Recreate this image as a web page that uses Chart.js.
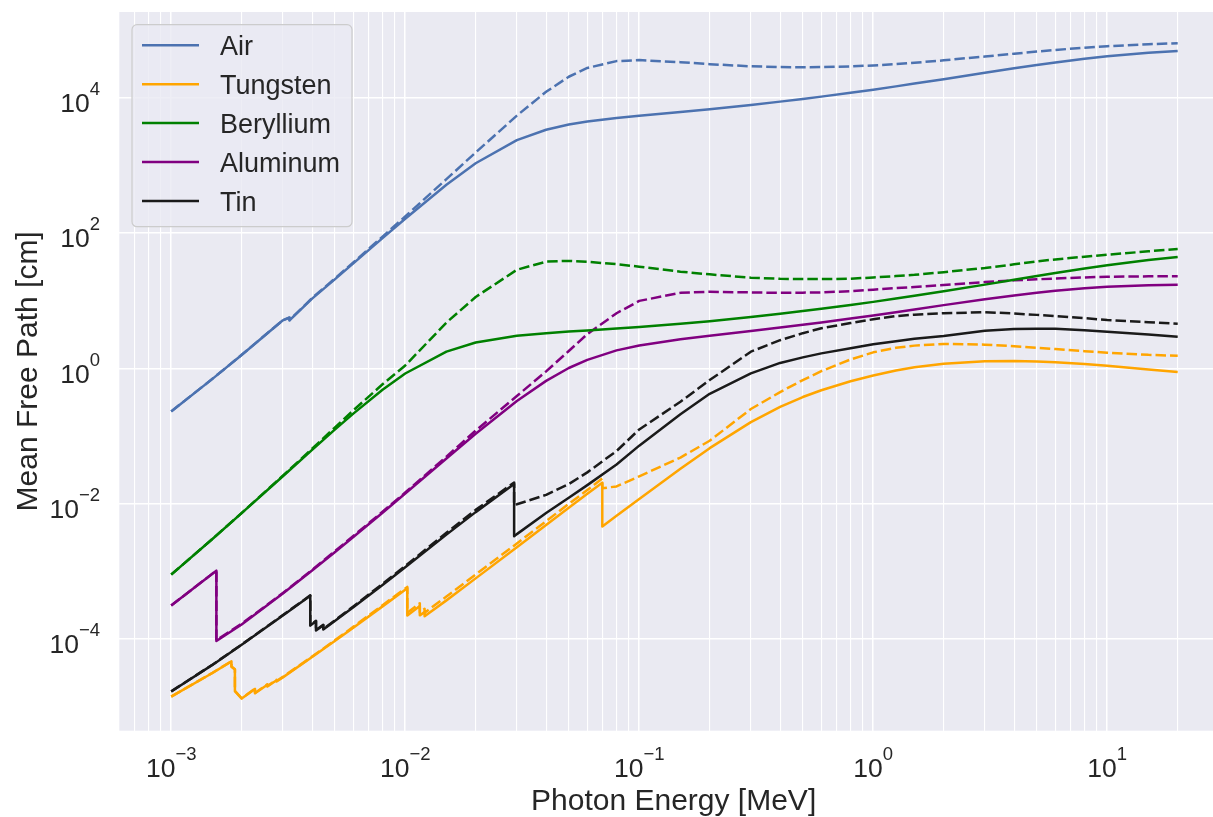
<!DOCTYPE html>
<html>
<head>
<meta charset="utf-8">
<script src="https://cdn.jsdelivr.net/npm/chart.js@4.4.1/dist/chart.umd.min.js"></script>
<style>
html,body{margin:0;padding:0;background:#ffffff;}
#wrap{width:1213px;height:817px;}
canvas{display:block;}
</style>
</head>
<body>
<div id="wrap"><canvas id="c" width="1213" height="817"></canvas></div>
<script>
// ---------------- DATA (photon energy in MeV, mean free path in cm) ----------------
const airE = [0.001,0.0015,0.002,0.003,0.0032029,0.0032029,0.004,0.005,0.006,0.008,0.01,0.015,0.02,0.03,0.04,0.05,0.06,0.08,0.1,0.15,0.2,0.3,0.4,0.5,0.6,0.8,1,1.25,1.5,2,3,4,5,6,8,10,15,20];
const airTotal = [0.230,0.697,1.57,5.11,5.59,5.09,10.7,20.6,35.5,83.7,162,514,1067,2346,3340,3990,4426,4993,5386,6120,6731,7778,8691,9526,10303,11732,13053,14593,16037,18662,23175,26953,30167,32906,37299,40582,45851,48675];
const airAbsorb = [0.231,0.699,1.58,5.14,5.63,5.16,10.9,21.1,36.6,87.9,175,622,1540,5400,12146,20251,27290,34479,35695,33249,31059,28896,28142,27981,28104,28796,29756,31129,32584,35390,40345,44380,47695,50388,54420,57234,61338,63303];

const wE = [0.001,0.0015,0.0018092,0.0018092,0.0018716,0.0018716,0.002,0.002281,0.002281,0.0025749,0.0025749,0.0028196,0.0028196,0.003,0.004,0.005,0.006,0.008,0.01,0.0102068,0.0102068,0.011544,0.011544,0.0120998,0.0120998,0.015,0.02,0.03,0.04,0.05,0.06,0.069525,0.069525,0.08,0.1,0.15,0.2,0.3,0.4,0.5,0.6,0.8,1,1.25,1.5,2,3,4,5,6,8,10,15,20];
const wTotal = [1.41e-5,3.15e-5,4.68e-5,3.90e-5,3.56e-5,1.70e-5,1.32e-5,1.83e-5,1.58e-5,2.12e-5,1.99e-5,2.46e-5,2.36e-5,2.72e-5,5.42e-5,9.36e-5,1.47e-4,3.04e-4,5.35e-4,5.63e-4,2.22e-4,3.07e-4,2.24e-4,2.51e-4,2.18e-4,3.73e-4,7.88e-4,2.28e-3,4.86e-3,8.71e-3,0.01396,0.0203,4.61e-3,6.63e-3,0.01168,0.0328,0.0661,0.160,0.269,0.376,0.474,0.642,0.783,0.929,1.036,1.169,1.271,1.283,1.263,1.231,1.159,1.092,0.962,0.879];
const wAbsorb = [1.41e-5,3.17e-5,4.70e-5,3.93e-5,3.58e-5,1.71e-5,1.335e-5,1.85e-5,1.60e-5,2.15e-5,2.02e-5,2.50e-5,2.40e-5,2.76e-5,5.51e-5,9.58e-5,1.515e-4,3.16e-4,5.60e-4,5.90e-4,2.45e-4,3.38e-4,2.50e-4,2.80e-4,2.45e-4,4.25e-4,9.0e-4,2.58e-3,5.51e-3,9.96e-3,0.0159,0.0235,0.0169,0.0180,0.0253,0.048,0.085,0.250,0.445,0.670,0.907,1.349,1.72,2.004,2.161,2.286,2.235,2.117,2.013,1.925,1.792,1.700,1.579,1.532];

const beE = [0.001,0.0015,0.002,0.003,0.004,0.005,0.006,0.008,0.01,0.015,0.02,0.03,0.04,0.05,0.06,0.08,0.1,0.15,0.2,0.3,0.4,0.5,0.6,0.8,1,1.25,1.5,2,3,4,5,6,8,10,15,20];
const beTotal = [8.96e-4,3.01e-3,7.25e-3,0.0254,0.0623,0.124,0.214,0.481,0.837,1.76,2.40,3.02,3.30,3.48,3.62,3.86,4.08,4.55,4.97,5.72,6.39,6.99,7.56,8.61,9.57,10.7,11.8,13.7,17.2,20.3,23.1,25.5,29.8,33.3,39.8,44.1];
const beAbsorb = [8.97e-4,3.02e-3,7.29e-3,0.0259,0.0647,0.133,0.239,0.58,1.1,4.73,11.3,28.5,37.6,38.6,37.5,34.5,31.7,26.7,24.4,21.8,21.0,20.8,20.8,21.0,22.0,23.0,24.0,26.3,30.3,34.3,38.0,40.6,44.5,47.5,53.5,57.9];

const alE = [0.001,0.0015,0.0015596,0.0015596,0.002,0.003,0.004,0.005,0.006,0.008,0.01,0.015,0.02,0.03,0.04,0.05,0.06,0.08,0.1,0.15,0.2,0.3,0.4,0.5,0.6,0.8,1,1.25,1.5,2,3,4,5,6,8,10,15,20];
const alTotal = [3.13e-4,9.21e-4,1.023e-3,9.36e-5,1.637e-4,4.70e-4,1.028e-3,1.916e-3,3.21e-3,7.36e-3,0.0141,0.0466,0.108,0.329,0.652,1.01,1.33,1.84,2.17,2.69,3.03,3.56,3.99,4.39,4.75,5.42,6.03,6.74,7.40,8.57,10.5,11.9,13.1,14.0,15.2,16.0,16.9,17.1];
const alAbsorb = [3.13e-4,9.26e-4,1.029e-3,9.68e-5,1.681e-4,4.79e-4,1.054e-3,1.98e-3,3.33e-3,7.6e-3,0.0146,0.0495,0.120,0.39,0.90,1.80,3.20,6.50,9.9,13.0,13.5,13.2,13.0,13.1,13.2,13.8,14.5,15.3,15.9,17.0,18.8,19.9,20.6,21.2,22.0,22.5,22.8,22.9];

const snE = [0.001,0.0015,0.002,0.003,0.0039288,0.0039288,0.0041561,0.0041561,0.0044647,0.0044647,0.005,0.006,0.008,0.01,0.015,0.02,0.0292001,0.0292001,0.03,0.04,0.05,0.06,0.08,0.1,0.15,0.2,0.3,0.4,0.5,0.6,0.8,1,1.25,1.5,2,3,4,5,6,8,10,15,20];
const snTotal = [1.68e-5,4.15e-5,8.22e-5,2.23e-4,4.36e-4,1.58e-4,1.83e-4,1.34e-4,1.60e-4,1.39e-4,1.85e-4,2.96e-4,6.31e-4,1.147e-3,3.49e-3,7.5e-3,0.0195,3.3e-3,3.55e-3,7.3e-3,0.0122,0.0188,0.038,0.072,0.21,0.42,0.84,1.20,1.45,1.66,1.97,2.26,2.5,2.72,3.0,3.59,3.80,3.85,3.83,3.66,3.47,3.15,2.93];
const snAbsorb = [1.69e-5,4.18e-5,8.3e-5,2.26e-4,4.42e-4,1.60e-4,1.86e-4,1.36e-4,1.63e-4,1.41e-4,1.89e-4,3.04e-4,6.55e-4,1.20e-3,3.72e-3,8.1e-3,0.0205,9.6e-3,9.8e-3,0.0135,0.0195,0.029,0.060,0.125,0.32,0.67,1.76,2.6,3.3,3.9,4.65,5.3,5.9,6.2,6.5,6.75,6.45,6.15,5.9,5.5,5.17,4.8,4.56];

const seriesNames = ['Air','Tungsten','Beryllium','Aluminum','Tin'];
const seriesColors = ['#4C72B0','#FFA500','#008000','#800080','#1A1A1A'];
const xTickExponents = [-3,-2,-1,0,1];
const yTickExponents = [-4,-2,0,2,4];
const xAxisTitle = 'Photon Energy [MeV]';
const yAxisTitle = 'Mean Free Path [cm]';

// ---------------- STYLE / LAYOUT ----------------
const FONT = '"Liberation Sans", Arial, Helvetica, sans-serif';
const TXT = '#262626';
const BG = '#EAEAF2';
const XMIN = 6.137e-4, XMAX = 28.31, YMIN = 4.43e-6, YMAX = 1.832e5;
const XAXIS_FULL_END = 32.8; // matplotlib axes right end (beyond the cropped image)
const LW = 2.5, DASH = [10.5, 4];
const TICK_SIZE = 26.5, SUP_SIZE = 18.5, SUP_RAISE = 17;
const TITLE_SIZE = 30, LEGEND_SIZE = 27;

const tables = [
  [airE, airTotal, airAbsorb],
  [wE, wTotal, wAbsorb],
  [beE, beTotal, beAbsorb],
  [alE, alTotal, alAbsorb],
  [snE, snTotal, snAbsorb]
];
function pts(E, V){ return E.map((e,i)=>({x:e, y:V[i]})); }

const datasets = [];
tables.forEach((t, i) => {
  const base = {borderColor: seriesColors[i], backgroundColor: seriesColors[i], borderWidth: LW,
    pointRadius: 0, pointHoverRadius: 0, fill: false, tension: 0,
    borderJoinStyle: 'round', borderCapStyle: 'butt'};
  datasets.push(Object.assign({label: seriesNames[i], data: pts(t[0], t[1])}, base));
  datasets.push(Object.assign({label: seriesNames[i] + ' (absorption)', data: pts(t[0], t[2]), borderDash: DASH}, base));
});

function isDecade(v){ const l = Math.log10(v); return Math.abs(l - Math.round(l)) < 1e-9; }
const xGridValues = [];
for (let d = -4; d <= 1; d++) for (let m = 1; m <= 9; m++) {
  const v = Number((m * Math.pow(10, d)).toPrecision(12));
  if (v >= XMIN && v <= XMAX) xGridValues.push(v);
}
const yGridValues = yTickExponents.map(p => Math.pow(10, p));

function drawPow(c, p, x, baseY, align){
  const b = '10', s = (p < 0 ? '\u2212' + (-p) : String(p));
  c.font = TICK_SIZE + 'px ' + FONT; const wb = c.measureText(b).width;
  c.font = SUP_SIZE + 'px ' + FONT; const ws = c.measureText(s).width;
  const tot = wb + ws;
  const x0 = align === 'center' ? x - tot / 2 : x - tot;
  c.textAlign = 'left'; c.textBaseline = 'alphabetic';
  c.font = TICK_SIZE + 'px ' + FONT; c.fillText(b, x0, baseY);
  c.font = SUP_SIZE + 'px ' + FONT; c.fillText(s, x0 + wb, baseY - SUP_RAISE);
}

const bgPlugin = {
  id: 'bg',
  beforeDraw(chart){
    const c = chart.ctx, a = chart.chartArea;
    c.save();
    c.fillStyle = '#ffffff'; c.fillRect(0, 0, chart.width, chart.height);
    c.fillStyle = BG; c.fillRect(a.left, a.top, a.right - a.left, a.bottom - a.top);
    c.restore();
  }
};

const textPlugin = {
  id: 'texts',
  afterDatasetsDraw(chart){
    const c = chart.ctx;
    c.save();
    const bx = 132, by = 24.7, bw = 220, bh = 202, r = 5;
    c.beginPath();
    c.moveTo(bx + r, by); c.lineTo(bx + bw - r, by); c.arcTo(bx + bw, by, bx + bw, by + r, r);
    c.lineTo(bx + bw, by + bh - r); c.arcTo(bx + bw, by + bh, bx + bw - r, by + bh, r);
    c.lineTo(bx + r, by + bh); c.arcTo(bx, by + bh, bx, by + bh - r, r);
    c.lineTo(bx, by + r); c.arcTo(bx, by, bx + r, by, r); c.closePath();
    c.fillStyle = 'rgba(234,234,242,0.8)'; c.fill();
    c.lineWidth = 1.2; c.strokeStyle = '#CCCCCC'; c.stroke();
    seriesNames.forEach((n, i) => {
      const yy = 45.3 + i * 38.9;
      c.beginPath(); c.moveTo(142, yy); c.lineTo(199, yy);
      c.strokeStyle = seriesColors[i]; c.lineWidth = LW; c.setLineDash([]); c.stroke();
      c.fillStyle = TXT; c.font = LEGEND_SIZE + 'px ' + FONT; c.textAlign = 'left'; c.textBaseline = 'alphabetic';
      c.fillText(n, 220, yy + 0.36 * LEGEND_SIZE);
    });
    c.restore();
  },
  afterDraw(chart){
    const c = chart.ctx, xs = chart.scales.x, ys = chart.scales.y;
    c.save(); c.fillStyle = TXT;
    xTickExponents.forEach(p => drawPow(c, p, xs.getPixelForValue(Math.pow(10, p)), 776.5, 'center'));
    yTickExponents.forEach(p => drawPow(c, p, 100, ys.getPixelForValue(Math.pow(10, p)) + 14.3, 'right'));
    c.font = TITLE_SIZE + 'px ' + FONT; c.textAlign = 'center'; c.textBaseline = 'alphabetic';
    const cx = (xs.left + xs.getPixelForValue(XAXIS_FULL_END)) / 2;
    c.fillText(xAxisTitle, cx, 810);
    c.translate(37, (ys.top + ys.bottom) / 2); c.rotate(-Math.PI / 2);
    c.fillText(yAxisTitle, 0, 0);
    c.restore();
  }
};

new Chart(document.getElementById('c').getContext('2d'), {
  type: 'line',
  data: {datasets},
  options: {
    responsive: false, animation: false, devicePixelRatio: 1,
    layout: {padding: {top: 12, right: 0, left: 0, bottom: 0}},
    plugins: {legend: {display: false}, tooltip: {enabled: false}},
    events: [],
    scales: {
      x: {
        type: 'logarithmic', position: 'bottom', min: XMIN, max: XMAX,
        afterFit(s){ s.height = 817 - 730.7; },
        afterBuildTicks(s){ s.ticks = xGridValues.map(v => ({value: v})); },
        ticks: {display: false},
        grid: {color: '#ffffff', lineWidth: c => (c.tick && isDecade(c.tick.value)) ? 1.5 : 1.1, drawTicks: false},
        border: {display: false}
      },
      y: {
        type: 'logarithmic', position: 'left', min: YMIN, max: YMAX,
        afterFit(s){ s.width = 119.3; },
        afterBuildTicks(s){ s.ticks = yGridValues.map(v => ({value: v})); },
        ticks: {display: false},
        grid: {color: '#ffffff', lineWidth: 1.5, drawTicks: false},
        border: {display: false}
      }
    }
  },
  plugins: [bgPlugin, textPlugin]
});
</script>
</body>
</html>
